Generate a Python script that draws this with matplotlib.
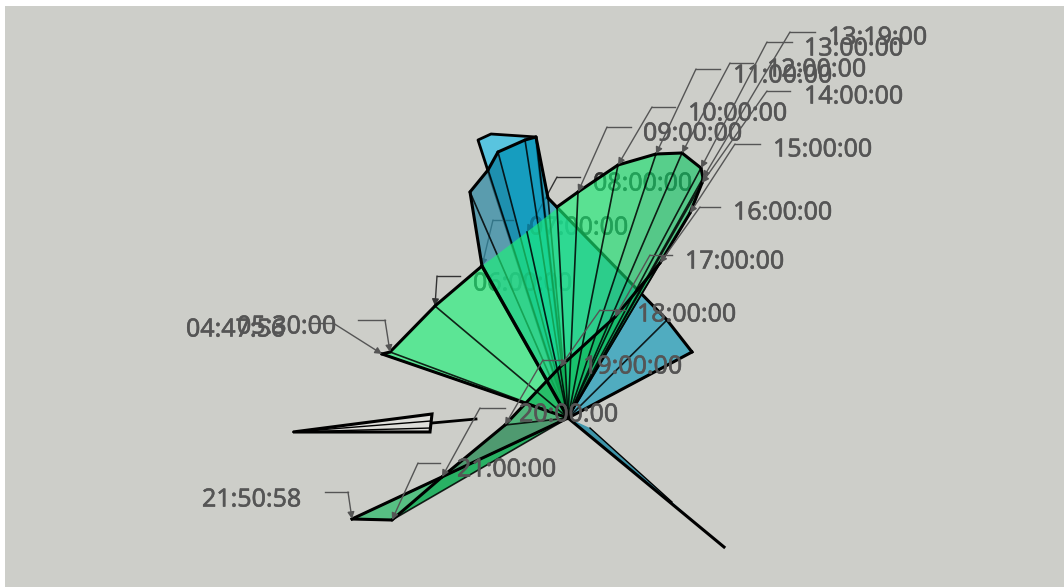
import matplotlib
matplotlib.use('Agg')
import matplotlib.pyplot as plt
import matplotlib.patheffects as pe
from matplotlib.patches import Polygon

plt.rcParams['font.family'] = ['Noto Sans', 'DejaVu Sans']

# Green series, one value per time label (east, north from the centre)
times = ['04:47:56', '05:30:00', '06:00:00', '07:00:00', '08:00:00', '09:00:00', '10:00:00',
         '11:00:00', '12:00:00', '13:00:00', '13:19:00', '14:00:00', '15:00:00', '16:00:00',
         '17:00:00', '18:00:00', '19:00:00', '20:00:00', '21:00:00', '21:50:58']
green_x = [-186, -178, -133, -86, -41, 10, 50, 88, 114, 133, 135, 134, 122, 92, 47, -8, -63, -126, -176, -216]
green_y = [64, 66, 112, 152, 186, 226, 253, 264, 265, 250, 240, 235, 205, 155, 101, 51, -7, -59, -102, -101]
green_cols = ['#1cf378', '#1cf378', '#1cf378', '#1cf378', '#1cf378', '#1aec74', '#18e06e', '#14d068',
              '#11c664', '#11c664', '#11c664', '#11c664', '#11c664', '#10c060', '#0eb85a', '#0ca850',
              '#087d3e', '#068e43', '#14b85c']

# Blue series
blue_x = [124, 99, -20, -32, -43, -70, -80, -98, -86]
blue_y = [66, 98, 220, 281, 278, 266, 248, 226, 152]
blue_cols = ['#26a1bd', '#26a1bd', '#0090b5', '#0090b5', '#0090b5', '#0a7f9f', '#348ca5', '#348ca5']
wing_x = [-32, -77, -90]
wing_y = [281, 284, 278]
tail_x = [22, 104, 156]
tail_y = [-10, -84, -129]

# Third series, hardly filled
thin_x = [-275, -136, -138]
thin_y = [-14, 4, -14]
thin_in_x = [-137, -137]
thin_in_y = [-3, -10]
stem_x = [-136, -92]
stem_y = [-5, -1]

# Label layout in picture pixels
label_left = [186, 237, 473, 529, 593, 643, 688, 733, 767, 804, 828, 804, 773, 733, 685, 637, 583, 519, 457, 202]
label_mid = [330, 327, 284, 228, 184, 134, 114, 76, 70, 49, 38, 97, 150, 213, 262, 315, 367, 415, 470, 500]
lead_start = [310, 358, 460, 513, 580, 631, 675, 720, 753, 792, 815, 790, 760, 720, 672, 625, 565, 505, 440, 325]
lead_elbow = [333, 385, 437, 493, 557, 607, 652, 696, 730, 767, 790, 767, 735, 700, 650, 600, 543, 480, 418, 348]
lead_y = [323, 320, 276, 220, 177, 127, 107, 69, 63, 42, 32, 91, 144, 207, 255, 310, 360, 408, 463, 492]
under_green = ['06:00:00', '07:00:00', '08:00:00']

W, H = 1064, 587
CX, CY = 568, 418
BG = '#cdcec9'
TXT = '#555555'


def to_xy(px, py):
    return px - CX, CY - py


def fan(ax, xs, ys, cols, alpha, z, skip=()):
    for i in range(len(xs) - 1):
        ax.add_patch(Polygon([(0, 0), (xs[i], ys[i]), (xs[i + 1], ys[i + 1])], closed=True,
                             fc=cols[i], ec='none', alpha=alpha, zorder=z))
    for x, y in zip(xs, ys):
        ax.plot([0, x], [0, y], color='black', lw=1.2, alpha=0.85, zorder=z + 0.1)
    for i in range(len(xs) - 1):
        if i not in skip:
            ax.plot(xs[i:i + 2], ys[i:i + 2], color='black', lw=2.2,
                    solid_capstyle='round', zorder=z + 0.2)
    ax.plot([0, xs[0]], [0, ys[0]], color='black', lw=2.2, zorder=z + 0.2)
    ax.plot([0, xs[-1]], [0, ys[-1]], color='black', lw=2.2, zorder=z + 0.2)


fig = plt.figure(figsize=(W / 100, H / 100), dpi=100, facecolor='white')
ax = fig.add_axes([5 / W, 0, (W - 5) / W, (H - 6) / H])
ax.set_xlim(5 - CX, W - CX)
ax.set_ylim(CY - H, CY - 6)
ax.axis('off')
ax.add_patch(plt.Rectangle((5 - CX, CY - H), W - 5, H - 6, fc=BG, ec='none', zorder=0))

# blue shapes
ax.add_patch(Polygon([(0, 0)] + list(zip(wing_x, wing_y)), closed=True, fc='#45c3e3', ec='none', alpha=0.85, zorder=1))
ax.plot([0] + wing_x + [0], [0] + wing_y + [0], color='black', lw=2, zorder=1.1)
fan(ax, blue_x, blue_y, blue_cols, 0.75, 1.2)
ax.add_patch(Polygon([(0, 0)] + list(zip(tail_x, tail_y)), closed=True, fc='#2f8ea6', ec='none', alpha=0.9, zorder=1.5))
ax.plot([0, tail_x[2]], [0, tail_y[2]], color='black', lw=2.2, zorder=1.6)
ax.plot([tail_x[0], tail_x[1]], [tail_y[0], tail_y[1]], color='black', lw=1, zorder=1.6)

# thin shape on the left
ax.add_patch(Polygon(list(zip(thin_x, thin_y)), closed=True, fc='#dededa', ec='black', lw=2.2, zorder=1.7))
for x, y in zip(thin_in_x, thin_in_y):
    ax.plot([thin_x[0], x], [thin_y[0], y], color='black', lw=1, zorder=1.8)
ax.plot(stem_x, stem_y, color='black', lw=2, zorder=1.8)

# green fan, its edge is lost where it crosses the blue shape
fan(ax, green_x, green_y, green_cols, 0.64, 3, skip=(3, 4))
part_x, part_y = to_xy(557, 207)
ax.plot([part_x, green_x[5]], [part_y, green_y[5]], color='black', lw=2.2, zorder=3.2)
ax.plot([0, part_x], [0, part_y], color='black', lw=1.2, alpha=0.85, zorder=3.1)
ax.plot([0, green_x[3]], [0, green_y[3]], color='black', lw=2.4, zorder=3.3)

# labels with their elbow leaders
for i, t in enumerate(times):
    dim = t in under_green
    z = 1.15 if dim else 5
    col = '#333333' if dim else TXT
    ax.text(*to_xy(label_left[i], label_mid[i]), t, fontsize=18, color=col, ha='left',
            va='center', zorder=z, path_effects=[pe.withStroke(linewidth=0.4, foreground=col)])
    sx, sy = to_xy(lead_start[i], lead_y[i])
    ex, ey = to_xy(lead_elbow[i], lead_y[i])
    ax.plot([sx, ex], [sy, ey], color=col, lw=1, zorder=z)
    ax.annotate('', xy=(green_x[i], green_y[i]), xytext=(ex, ey),
                arrowprops=dict(arrowstyle='-|>', color=col, lw=1, mutation_scale=10,
                                shrinkA=0, shrinkB=0), zorder=z)

fig.savefig('out.png', dpi=100, facecolor='white')
